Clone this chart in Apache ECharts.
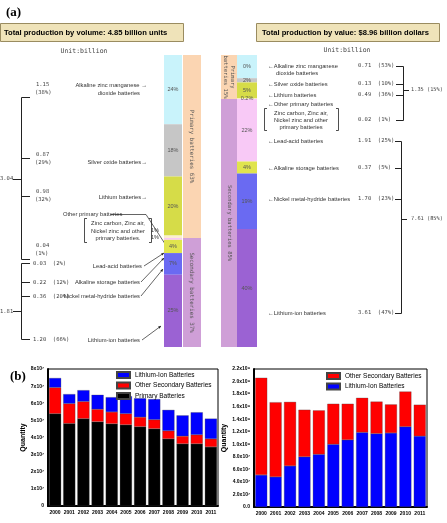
<!DOCTYPE html>
<html>
<head>
<meta charset="utf-8">
<script src="https://cdn.jsdelivr.net/npm/echarts@6/dist/echarts.min.js"></script>
<style>
html, body { margin: 0; padding: 0; background: #fff; }
#chart { width: 447px; height: 523px; }
</style>
</head>
<body>
<div id="chart"></div>
<script>
// (a) battery production, unit: billion
var subNames = ['Alkaline zinc manganese', 'Silver oxide', 'Lithium', 'Other primary',
                'Lead-acid', 'Alkaline storage', 'Nickel metal-hydride', 'Lithium-ion'];
var volSub = [1.15, 0.87, 0.98, 0.04, 0.03, 0.22, 0.36, 1.20];
var volSubPct = ['24%', '18%', '20%', '', '', '4%', '7%', '25%'];
var volGroup = [3.04, 1.81];
var volGroupText = ['Primary batteries 63%', 'Secondary batteries 37%'];
var valSub = [0.71, 0.13, 0.49, 0.02, 1.91, 0.37, 1.70, 3.61];
var valSubPct = ['0%', '2%', '5%', '0.2%', '22%', '4%', '19%', '40%'];
var valGroup = [1.35, 7.61];
var valGroupText = ['Primary\nbatteries 15%', 'Secondary batteries 85%'];

// (b) production quantity by year
var years = ['2000', '2001', '2002', '2003', '2004', '2005', '2006', '2007', '2008', '2009', '2010', '2011'];
// left chart, x10^7
var qPrimary = [5.39, 4.82, 5.10, 4.92, 4.80, 4.74, 4.63, 4.51, 3.92, 3.63, 3.63, 3.45];
var qOtherSec = [1.53, 1.16, 1.00, 0.73, 0.69, 0.65, 0.56, 0.53, 0.47, 0.45, 0.53, 0.47];
var qLiIon = [0.55, 0.55, 0.66, 0.84, 0.86, 1.02, 1.10, 1.20, 1.22, 1.21, 1.31, 1.18];
// right chart, x10^8
var sLiIon = [0.51, 0.48, 0.655, 0.80, 0.84, 1.00, 1.07, 1.19, 1.17, 1.18, 1.28, 1.13];
var sOtherSec = [1.55, 1.19, 1.02, 0.75, 0.70, 0.645, 0.575, 0.55, 0.51, 0.455, 0.56, 0.50];

var subColors = ['#c9f3fb', '#c6c6c6', '#d6dc48', '#fbefcf', '#f8c9f6', '#e0e44e', '#6a6af2', '#9b62d3'];
var groupColors = ['#fbd5b2', '#cf9fd7'];

var NARROW = "'Liberation Sans Narrow', 'Liberation Sans', sans-serif";
var MONO = "'DejaVu Sans Mono', monospace";
var SANS = "'Liberation Sans', Arial, sans-serif";

function sum(a) { return a.reduce(function (s, v) { return s + v; }, 0); }

var myChart = echarts.init(document.getElementById('chart'));

var grids = [
  { left: 164, top: 55, width: 18, height: 292 },
  { left: 183, top: 55, width: 18, height: 292 },
  { left: 221, top: 55, width: 16, height: 292 },
  { left: 237, top: 55, width: 20, height: 292 },
  { left: 48, top: 369, width: 170, height: 137, show: true, borderColor: '#000', borderWidth: 1 },
  { left: 254, top: 369, width: 173, height: 138, show: true, borderColor: '#000', borderWidth: 1 }
];

var xAxes = [], yAxes = [], series = [];
var cols = [volSub, volGroup, valGroup, valSub];
cols.forEach(function (arr, i) {
  xAxes.push({ type: 'category', gridIndex: i, data: ['x'], show: false });
  yAxes.push({ type: 'value', gridIndex: i, min: 0, max: sum(arr), inverse: true, show: false });
});

function addColumn(gi, values, colors, texts, rot, fs) {
  values.forEach(function (v, k) {
    series.push({
      type: 'bar',
      name: 'c' + gi + '_' + k,
      xAxisIndex: gi,
      yAxisIndex: gi,
      stack: 's' + gi,
      barWidth: '100%',
      itemStyle: { color: colors[k] },
      label: {
        show: !!texts[k],
        position: 'inside',
        formatter: texts[k],
        rotate: rot,
        fontSize: fs,
        fontFamily: rot ? MONO : SANS,
        color: '#555',
        lineHeight: fs + 2
      },
      data: [v]
    });
  });
}
addColumn(0, volSub, subColors, volSubPct, 0, 5.5);
addColumn(1, volGroup, groupColors, volGroupText, -90, 5.8);
addColumn(2, valGroup, groupColors, valGroupText, -90, 5.5);
addColumn(3, valSub, subColors, valSubPct, 0, 5.5);

// bottom charts
var axLabel = { fontSize: 5, fontWeight: 'bold', color: '#000', fontFamily: SANS };
xAxes.push({
  type: 'category', gridIndex: 4, data: years,
  axisLine: { lineStyle: { color: '#000', width: 2 } },
  axisTick: { show: false },
  axisLabel: Object.assign({ interval: 0, margin: 4 }, axLabel)
});
xAxes.push({
  type: 'category', gridIndex: 5, data: years,
  axisLine: { lineStyle: { color: '#000', width: 2 } },
  axisTick: { show: false },
  axisLabel: Object.assign({ interval: 0, margin: 4 }, axLabel)
});
yAxes.push({
  type: 'value', gridIndex: 4, min: 0, max: 8, interval: 1,
  name: 'Quantity', nameLocation: 'middle', nameGap: 21,
  nameTextStyle: { fontSize: 7, fontWeight: 'bold', fontFamily: SANS, color: '#000' },
  axisLine: { show: true, lineStyle: { color: '#000', width: 2 } },
  axisTick: { show: false },
  splitLine: { show: false },
  axisLabel: Object.assign({
    margin: 4,
    formatter: function (v) { return v === 0 ? '0' : v + 'x10⁷'; }
  }, axLabel)
});
yAxes.push({
  type: 'value', gridIndex: 5, min: 0, max: 2.2, interval: 0.2,
  name: 'Quantity', nameLocation: 'middle', nameGap: 26,
  nameTextStyle: { fontSize: 7, fontWeight: 'bold', fontFamily: SANS, color: '#000' },
  axisLine: { show: true, lineStyle: { color: '#000', width: 2 } },
  axisTick: { show: false },
  splitLine: { show: false },
  axisLabel: Object.assign({
    margin: 4,
    formatter: function (v) {
      var r = Math.round(v * 10) / 10;
      if (r === 0) return '0.0';
      if (r < 1) return (r * 10).toFixed(1) + 'x10⁷';
      return r.toFixed(1) + 'x10⁸';
    }
  }, axLabel)
});

function bottomBar(name, gi, data, color, gap) {
  series.push({
    type: 'bar', name: name, xAxisIndex: gi, yAxisIndex: gi, stack: 'b' + gi,
    barCategoryGap: gap,
    itemStyle: { color: color, borderColor: '#444', borderWidth: 0.3 },
    data: data
  });
}
bottomBar('Primary Batteries', 4, qPrimary, '#000000', '15%');
bottomBar('Other Secondary Batteries', 4, qOtherSec, '#ff0000', '15%');
bottomBar('Lithium-Ion Batteries', 4, qLiIon, '#0000ff', '15%');
bottomBar('Lithium-Ion Batteries', 5, sLiIon, '#0000ff', '17%');
bottomBar('Other Secondary Batteries', 5, sOtherSec, '#ff0000', '17%');

// annotation graphics
var g = [];
function T(x, y, s, o) {
  var st = Object.assign({
    text: s, x: x, y: y, fontSize: 5.8, fontFamily: NARROW, fill: '#333',
    align: 'left', textAlign: 'left', verticalAlign: 'middle', textVerticalAlign: 'middle'
  }, o || {});
  if (st.align !== 'left') st.textAlign = st.align;
  g.push({ type: 'text', style: st, silent: true });
}
function L(pts, c, w) {
  g.push({ type: 'polyline', shape: { points: pts }, style: { stroke: c || '#000', lineWidth: w || 1, fill: null }, silent: true });
}
function arrow(x1, y1, x2, y2) {
  L([[x1, y1], [x2, y2]], '#222', 0.7);
  var a = Math.atan2(y2 - y1, x2 - x1), h = 3;
  g.push({
    type: 'polygon', silent: true,
    shape: { points: [[x2, y2], [x2 - h * Math.cos(a - 0.45), y2 - h * Math.sin(a - 0.45)], [x2 - h * Math.cos(a + 0.45), y2 - h * Math.sin(a + 0.45)]] },
    style: { fill: '#222' }
  });
}
var mono = { fontFamily: MONO, fontSize: 5.5, fill: '#444' };

// headers
T(6, 13, '(a)', { fontFamily: "'Liberation Serif', serif", fontSize: 13, fontWeight: 'bold', fill: '#000' });
T(10, 377, '(b)', { fontFamily: "'Liberation Serif', serif", fontSize: 13, fontWeight: 'bold', fill: '#000' });
g.push({ type: 'rect', shape: { x: 0.5, y: 23.5, width: 183, height: 18 }, style: { fill: '#efe3b9', stroke: '#9a8c60', lineWidth: 1 }, silent: true });
g.push({ type: 'rect', shape: { x: 256.5, y: 23.5, width: 183, height: 18 }, style: { fill: '#efe3b9', stroke: '#9a8c60', lineWidth: 1 }, silent: true });
T(4, 33, 'Total production by volume: 4.85 billion units', { fontSize: 7.6, fontWeight: 'bold', fill: '#000' });
T(262, 33, 'Total production by value: $8.96 billion dollars', { fontSize: 7.6, fontWeight: 'bold', fill: '#000' });
T(84, 51, 'Unit:billion', { fontFamily: MONO, fontSize: 6.5, fill: '#444', align: 'center' });
T(347, 50, 'Unit:billion', { fontFamily: MONO, fontSize: 6.5, fill: '#444', align: 'center' });

// left brackets: primary
L([[30, 97.5], [21.5, 97.5], [21.5, 259.5], [30, 259.5]], '#222', 1);
L([[21.5, 158.5], [30, 158.5]], '#222', 1);
L([[21.5, 196.5], [30, 196.5]], '#222', 1);
L([[13, 179.5], [21.5, 179.5]], '#222', 1);
T(0, 179, volGroup[0].toFixed(2), mono);
var lp = [[85, 93], [155, 163], [192, 200], [246, 254]];
var lpct = ['(38%)', '(29%)', '(32%)', '(1%)'];
for (var i = 0; i < 4; i++) {
  T(36, lp[i][0], volSub[i].toFixed(2), mono);
  T(35, lp[i][1], lpct[i], mono);
}
// left brackets: secondary
L([[30, 263.5], [21.5, 263.5], [21.5, 339.5], [30, 339.5]], '#222', 1);
L([[21.5, 282.5], [30, 282.5]], '#222', 1);
L([[21.5, 296.5], [30, 296.5]], '#222', 1);
L([[13, 311.5], [21.5, 311.5]], '#222', 1);
T(0, 312, volGroup[1].toFixed(2), mono);
var sy = [264, 283, 297, 340];
var spct = ['(2%)', '(12%)', '(20%)', '(66%)'];
for (var j = 0; j < 4; j++) {
  T(33, sy[j], volSub[4 + j].toFixed(2) + '  ' + spct[j], mono);
}

// left names
var R = { align: 'right' };
T(147, 85, 'Alkaline zinc manganese →', R);
T(140, 93, 'dioxide batteries', R);
T(147, 162, 'Silver oxide batteries→', R);
T(147, 197, 'Lithium batteries→', R);
T(63, 214, 'Other primary batteries');
L([[111, 214.5], [146, 214.5]], '#222', 0.7);
arrow(146, 214.5, 169, 250);
L([[87, 218.5], [84.5, 218.5], [84.5, 242.5], [87, 242.5]], '#222', 0.8);
L([[149, 218.5], [151.5, 218.5], [151.5, 242.5], [149, 242.5]], '#222', 0.8);
T(118, 223, 'Zinc carbon, Zinc air,', { align: 'center' });
T(118, 231, 'Nickel zinc and other', { align: 'center' });
T(118, 238, 'primary batteries.', { align: 'center' });
T(155, 230, '1%', { align: 'center', fontSize: 5.5 });
T(155, 237, '1%', { align: 'center', fontSize: 5.5 });
T(142, 266, 'Lead-acid batteries', R);
arrow(144, 266, 164, 253);
T(140, 282, 'Alkaline storage batteries', R);
arrow(141, 282, 164, 258);
T(140, 296, 'Nickel metal-hydride batteries', R);
arrow(141, 296, 163, 269);
T(140, 340, 'Lithium-ion batteries', R);
arrow(142, 340, 161, 326);

// right names
T(268, 66, '←Alkaline zinc manganese');
T(276, 73, 'dioxide batteries');
T(268, 84, '←Silver oxide batteries');
T(268, 95, '←Lithium batteries');
T(268, 104, '←Other primary batteries');
L([[267, 108.5], [264.5, 108.5], [264.5, 130.5], [267, 130.5]], '#222', 0.8);
L([[336, 108.5], [338.5, 108.5], [338.5, 130.5], [336, 130.5]], '#222', 0.8);
T(301, 113, 'Zinc carbon, Zinc air,', { align: 'center' });
T(301, 120, 'Nickel zinc and other', { align: 'center' });
T(301, 127, 'primary batteries', { align: 'center' });
T(268, 141, '←Lead-acid batteries');
T(268, 168, '←Alkaline storage batteries');
T(268, 199, '←Nickel metal-hydride batteries');
T(268, 313, '←Lithium-ion batteries');

var vy = [66, 84, 95, 120, 141, 168, 199, 313];
var vpct = ['(53%)', '(10%)', '(36%)', '(1%)', '(25%)', '(5%)', '(23%)', '(47%)'];
for (var k = 0; k < 8; k++) {
  T(358, vy[k], valSub[k].toFixed(2) + '  ' + vpct[k], mono);
}
L([[396, 66.5], [403.5, 66.5], [403.5, 120.5], [396, 120.5]], '#222', 1);
L([[396, 84.5], [403.5, 84.5]], '#222', 1);
L([[396, 95.5], [403.5, 95.5]], '#222', 1);
L([[403.5, 90.5], [409, 90.5]], '#222', 1);
T(411, 90, valGroup[0].toFixed(2) + ' (15%)', { fontFamily: MONO, fontSize: 5.3, fill: '#444' });
L([[395, 141.5], [401.5, 141.5], [401.5, 313.5], [395, 313.5]], '#222', 1);
L([[395, 168.5], [401.5, 168.5]], '#222', 1);
L([[395, 199.5], [401.5, 199.5]], '#222', 1);
L([[401.5, 219.5], [407, 219.5]], '#222', 1);
T(411, 219, valGroup[1].toFixed(2) + ' (85%)', { fontFamily: MONO, fontSize: 5.3, fill: '#444' });

var legendText = { fontSize: 6.5, fontFamily: SANS, color: '#000' };
var option = {
  animation: false,
  backgroundColor: '#fff',
  grid: grids,
  xAxis: xAxes,
  yAxis: yAxes,
  legend: [
    {
      data: ['Lithium-Ion Batteries', 'Other Secondary Batteries', 'Primary Batteries'],
      left: 116, top: 371, orient: 'vertical', itemGap: 2.5,
      itemWidth: 13, itemHeight: 6, icon: 'rect', padding: 0,
      textStyle: legendText
    },
    {
      data: ['Other Secondary Batteries', 'Lithium-Ion Batteries'],
      left: 326, top: 372, orient: 'vertical', itemGap: 2.5,
      itemWidth: 13, itemHeight: 6, icon: 'rect', padding: 0,
      textStyle: legendText
    }
  ],
  series: series,
  graphic: g
};
myChart.setOption(option);
window.addEventListener('resize', function () {
  myChart.resize();
});
</script>
</body>
</html>
